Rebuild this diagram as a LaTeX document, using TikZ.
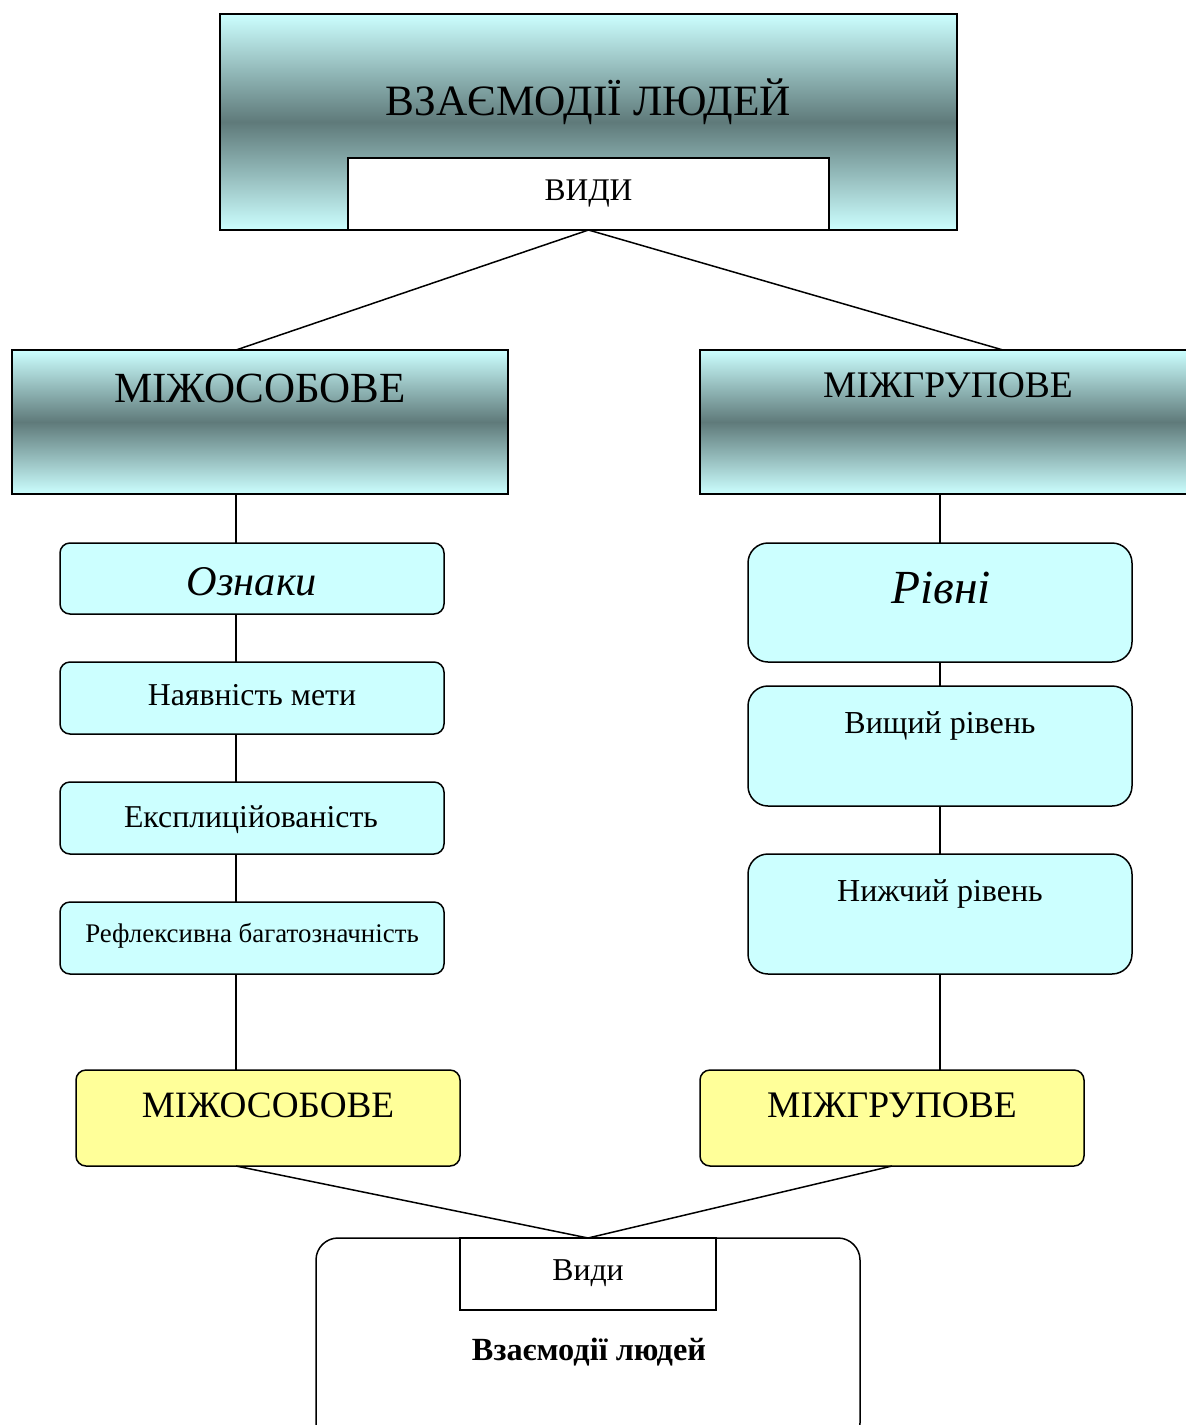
\documentclass[tikz,border=0pt]{standalone}
\usepackage{fontspec}
\setmainfont{Liberation Serif}
\definecolor{lcyan}{RGB}{204,255,255}
\definecolor{dslate}{RGB}{95,122,122}
\definecolor{lyel}{RGB}{255,255,153}
\newcommand{\fsz}[1]{\fontsize{#1}{#1}\selectfont}
\begin{document}
\begin{tikzpicture}[x=1pt,y=-1pt,
  box/.style={draw, line width=1.5pt, inner sep=0pt, outer sep=0pt},
  grad/.style={box, top color=lcyan, bottom color=lcyan, middle color=dslate},
  whitebox/.style={box, fill=white},
  cbox/.style={box, fill=lcyan, rounded corners=10pt, minimum width=384pt},
  cboxr/.style={box, fill=lcyan, rounded corners=20pt, minimum width=384pt},
  ybox/.style={box, fill=lyel, rounded corners=10pt, minimum width=384pt, minimum height=96pt},
  txt/.style={anchor=base, inner sep=0pt},
  conn/.style={line width=1.5pt}]
\useasboundingbox (0,0) rectangle (1186,1425);
\clip (0,0) rectangle (1186,1425);
\fill[white] (0,0) rectangle (1186,1425);

% top block
\node[grad, minimum width=737pt, minimum height=216pt] (top) at (588.5,122) {};
\node[whitebox, minimum width=481pt, minimum height=72pt] (vidi) at (588.5,194) {};
\node[txt] (ttop) at (588.5,115) {\fsz{43.3}ВЗАЄМОДІЇ ЛЮДЕЙ};
\node[txt] (tvidi) at (588.5,200) {\fsz{31.5}ВИДИ};

% second level
\node[grad, minimum width=496pt, minimum height=144pt] (mo) at (260,422) {};
\node[grad, minimum width=496pt, minimum height=144pt] (mg) at (948,422) {};
\node[txt] (tmo) at (260,402) {\fsz{43}МІЖОСОБОВЕ};
\node[txt] (tmg) at (948,397) {\fsz{37.5}МІЖГРУПОВЕ};

\coordinate (cL) at (236,0);
\coordinate (mgtop) at (1003,350);

% left column
\node[cbox, minimum height=71pt] (ozn) at (252,578.5) {};
\node[cbox, minimum height=72pt] (nm) at (252,698) {};
\node[cbox, minimum height=72pt] (eks) at (252,818) {};
\node[cbox, minimum height=72pt] (ref) at (252,938) {};
\node[txt] (tozn) at (252,595) {\fsz{42.3}\itshape Ознаки};
\node[txt] (tnm) at (252,705) {\fsz{31.8}Наявність мети};
\node[txt] (teks) at (251,827) {\fsz{31.8}Експлиційованість};
\node[txt] (tref) at (252,942) {\fsz{26.9}Рефлексивна багатозначність};

% right column
\node[cboxr, minimum height=119pt] (rivni) at (940,602.5) {};
\node[cboxr, minimum height=120pt] (vyshch) at (940,746) {};
\node[cboxr, minimum height=120pt] (nyzh) at (940,914) {};
\node[txt] (trivni) at (941,603) {\fsz{47.5}\itshape Рівні};
\node[txt] (tvyshch) at (940,733) {\fsz{32}Вищий рівень};
\node[txt] (tnyzh) at (940,901) {\fsz{32}Нижчий рівень};

% yellow
\node[ybox] (yl) at (268,1118) {};
\node[ybox] (yr) at (892,1118) {};
\node[txt] (tyl) at (268,1117) {\fsz{37.2}МІЖОСОБОВЕ};
\node[txt] (tyr) at (892,1117) {\fsz{37.5}МІЖГРУПОВЕ};

% bottom
\node[box, fill=white, rounded corners=22pt, minimum width=544pt, minimum height=207pt] (bot) at (588,1341.5) {};
\node[whitebox, minimum width=256pt, minimum height=72pt] (vydy) at (588,1274) {};
\node[txt] (tvydy) at (588,1280) {\fsz{31.8}Види};
\node[txt] (tbot) at (589,1360) {\fsz{32.3}\bfseries Взаємодії людей};

% connectors
\draw[conn] (vidi.south) -- (mo.north -| cL);
\draw[conn] (vidi.south) -- (mgtop);
\draw[conn] (mo.south -| cL) -- (ozn.north -| cL);
\draw[conn] (ozn.south -| cL) -- (nm.north -| cL);
\draw[conn] (nm.south -| cL) -- (eks.north -| cL);
\draw[conn] (eks.south -| cL) -- (ref.north -| cL);
\draw[conn] (ref.south -| cL) -- (yl.north -| cL);
\draw[conn] (mg.south -| rivni.north) -- (rivni.north);
\draw[conn] (rivni.south) -- (vyshch.north);
\draw[conn] (vyshch.south) -- (nyzh.north);
\draw[conn] (nyzh.south) -- (yr.north -| nyzh.south);
\draw[conn] (yl.south -| cL) -- (vydy.north);
\draw[conn] (yr.south) -- (vydy.north);
\end{tikzpicture}
\end{document}
